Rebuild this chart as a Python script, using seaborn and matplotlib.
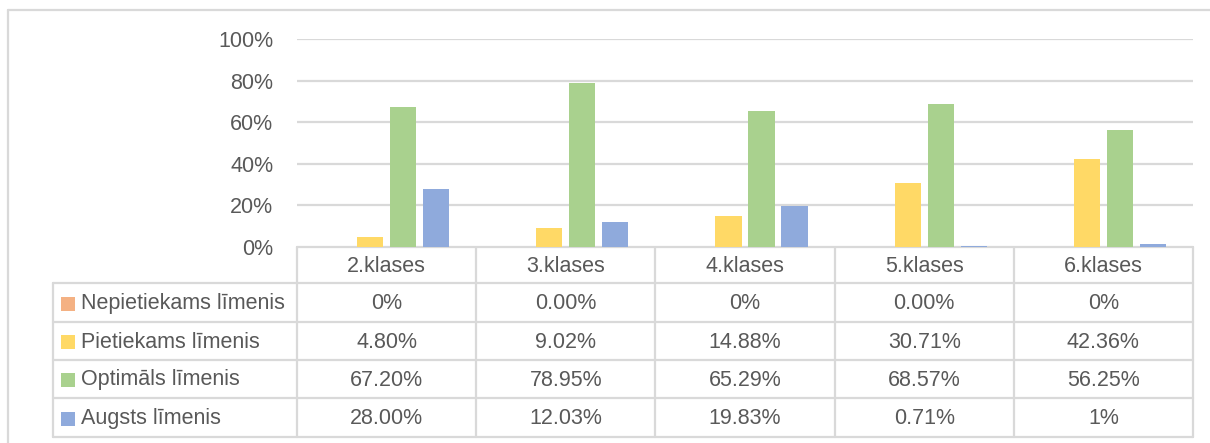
"""
Grouped bar chart with an Excel-style data table underneath.
"""

import matplotlib
matplotlib.use("Agg")
import matplotlib.pyplot as plt
import pandas as pd
import seaborn as sns
from matplotlib.patches import Rectangle

# ------------------------------------------------------------------
# Data
# ------------------------------------------------------------------
classes = ["2.klases", "3.klases", "4.klases", "5.klases", "6.klases"]
levels = ["Nepietiekams līmenis", "Pietiekams līmenis",
          "Optimāls līmenis", "Augsts līmenis"]

nepietiekams = [0.0, 0.0, 0.0, 0.0, 0.0]
pietiekams = [4.80, 9.02, 14.88, 30.71, 42.36]
optimals = [67.20, 78.95, 65.29, 68.57, 56.25]
augsts = [28.00, 12.03, 19.83, 0.71, 1.39]

# labels as they appear in the data table
nepietiekams_lbl = ["0%", "0.00%", "0%", "0.00%", "0%"]
pietiekams_lbl = ["4.80%", "9.02%", "14.88%", "30.71%", "42.36%"]
optimals_lbl = ["67.20%", "78.95%", "65.29%", "68.57%", "56.25%"]
augsts_lbl = ["28.00%", "12.03%", "19.83%", "0.71%", "1%"]

yticks = [0, 20, 40, 60, 80, 100]
ytick_labels = ["0%", "20%", "40%", "60%", "80%", "100%"]

colors = ["#F4B183", "#FFD966", "#A9D18E", "#8FAADC"]
TEXT = "#595959"
GRID = "#D9D9D9"

series = [nepietiekams, pietiekams, optimals, augsts]
series_lbl = [nepietiekams_lbl, pietiekams_lbl, optimals_lbl, augsts_lbl]

df = pd.DataFrame({
    "klase": [c for _ in levels for c in classes],
    "limenis": [lv for lv in levels for _ in classes],
    "vertiba": [v for s in series for v in s],
})

# ------------------------------------------------------------------
# Figure
# ------------------------------------------------------------------
sns.set_style("white")
plt.rcParams["font.family"] = ["Liberation Sans", "DejaVu Sans"]
FS = 15.5

W, H = 1210, 443
fig = plt.figure(figsize=(W / 100, H / 100), dpi=100)

# pixel geometry of the plot area
px_left, px_right = 297, 1193
px_top, px_zero = 39, 247
row_edges = [247, 283, 322, 360, 398, 437]
tab_left = 53

ax = fig.add_axes([px_left / W, 1 - px_zero / H,
                   (px_right - px_left) / W, (px_zero - px_top) / H])

sns.barplot(data=df, x="klase", y="vertiba", hue="limenis",
            order=classes, hue_order=levels, palette=colors,
            width=0.737, gap=0.21, ax=ax, legend=False,
            saturation=1, linewidth=0)

ax.set_xlim(-0.5, len(classes) - 0.5)
ax.set_ylim(0, 100)
ax.set_yticks(yticks)
ax.set_yticklabels(ytick_labels, fontsize=FS, color=TEXT)
ax.tick_params(axis="y", length=0, pad=17)
ax.set_xticks([])
ax.set_xlabel("")
ax.set_ylabel("")
ax.grid(axis="y", color=GRID, linewidth=1.6)
ax.set_axisbelow(True)
for sp in ax.spines.values():
    sp.set_visible(False)

# ------------------------------------------------------------------
# Data table drawn on an overlay in pixel coordinates
# ------------------------------------------------------------------
tab = fig.add_axes([0, 0, 1, 1], zorder=-1)
tab.set_xlim(0, W)
tab.set_ylim(H, 0)
tab.axis("off")

col_w = (px_right - px_left) / len(classes)
col_edges = [px_left + i * col_w for i in range(len(classes) + 1)]

line_kw = dict(color=GRID, linewidth=1.6)
# outer chart border (cropped at right and bottom)
tab.plot([8, 8], [10, H], **line_kw)
tab.plot([8, W], [10, 10], **line_kw)

# horizontal lines
tab.plot([px_left, px_right], [row_edges[0]] * 2, **line_kw)
for y in row_edges[1:]:
    tab.plot([tab_left, px_right], [y, y], **line_kw)
# vertical lines
tab.plot([tab_left, tab_left], [row_edges[1], row_edges[-1]], **line_kw)
for x in col_edges:
    tab.plot([x, x], [row_edges[0], row_edges[-1]], **line_kw)

# header row
for i, c in enumerate(classes):
    tab.text(col_edges[i] + col_w / 2, (row_edges[0] + row_edges[1]) / 2 + 1,
             c, ha="center", va="center", fontsize=FS, color=TEXT)

# body rows
for r, (lv, lbls, col) in enumerate(zip(levels, series_lbl, colors)):
    yc = (row_edges[r + 1] + row_edges[r + 2]) / 2 + 1
    tab.add_patch(Rectangle((61, yc - 7), 14, 14, color=col, linewidth=0))
    tab.text(81, yc, lv, ha="left", va="center", fontsize=FS, color=TEXT)
    for i, s in enumerate(lbls):
        tab.text(col_edges[i] + col_w / 2, yc, s, ha="center", va="center",
                 fontsize=FS, color=TEXT)

fig.savefig("out.png", dpi=100, facecolor="white")
